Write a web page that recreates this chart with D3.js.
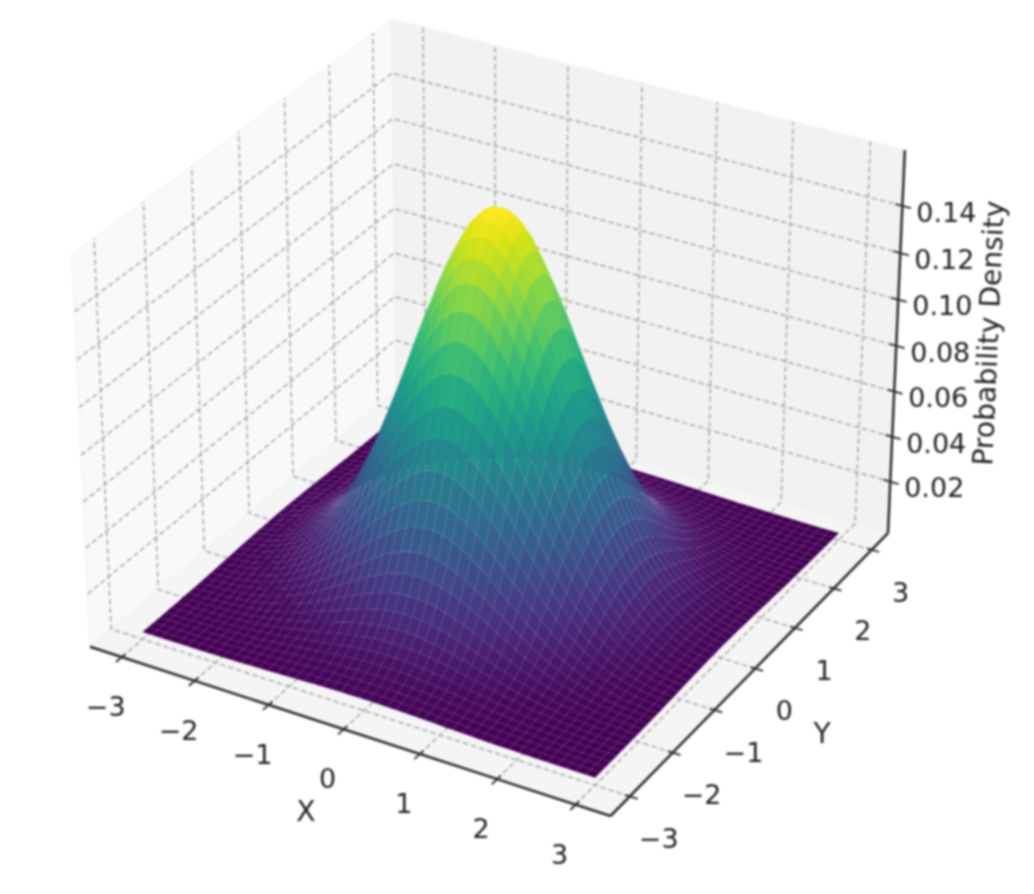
<!DOCTYPE html>
<html><head><meta charset="utf-8">
<script src="https://cdn.jsdelivr.net/npm/d3@7"></script>
<style>html,body{margin:0;padding:0;background:#fff}svg{display:block;filter:blur(0.8px)}text{font-family:"DejaVu Sans",sans-serif;fill:#222}</style>
</head><body><svg id="c" width="1034" height="894"></svg>
<script>
// ---- data ----
const xTicks = [-3,-2,-1,0,1,2,3];
const yTicks = [-3,-2,-1,0,1,2,3];
const zTicks = [0.02,0.04,0.06,0.08,0.10,0.12,0.14];
const xLabel = "X", yLabel = "Y", zLabel = "Probability Density";
// marginal density along each grid row / column (50 samples from -3 to 3)
const xProfile = [0.0044,0.0064,0.0088,0.012,0.017,0.023,0.031,0.040,0.052,0.066,0.083,0.102,0.124,0.148,0.175,0.203,0.232,0.262,0.291,0.318,0.343,0.364,0.382,0.394,0.400,
                  0.400,0.394,0.382,0.364,0.343,0.318,0.291,0.262,0.232,0.203,0.175,0.148,0.124,0.102,0.083,0.066,0.052,0.040,0.031,0.023,0.017,0.012,0.0088,0.0064,0.0044];
const yProfile = [0.0044,0.0064,0.0088,0.012,0.017,0.023,0.031,0.040,0.052,0.066,0.083,0.102,0.124,0.148,0.175,0.203,0.232,0.262,0.291,0.318,0.343,0.364,0.382,0.394,0.400,
                  0.400,0.394,0.382,0.364,0.343,0.318,0.291,0.262,0.232,0.203,0.175,0.148,0.124,0.102,0.083,0.066,0.052,0.040,0.031,0.023,0.017,0.012,0.0088,0.0064,0.0044];

// ---- scene ----
const xDom=[-3.44,3.44], yDom=[-3.44,3.44], zDom=[-0.0032,0.1634];
const box=[1.1429,1.1429,0.8571];
const sx=d3.scaleLinear().domain(xDom).range([0,box[0]]);
const sy=d3.scaleLinear().domain(yDom).range([0,box[1]]);
const sz=d3.scaleLinear().domain(zDom).range([0,box[2]]);
const el=30*Math.PI/180, az=-60*Math.PI/180, dist=10;
const w=[Math.cos(el)*Math.cos(az),Math.cos(el)*Math.sin(az),Math.sin(el)];
const r=[-w[1]/Math.hypot(w[0],w[1]),w[0]/Math.hypot(w[0],w[1]),0];
const up=[w[1]*r[2]-w[2]*r[1],w[2]*r[0]-w[0]*r[2],w[0]*r[1]-w[1]*r[0]];
const dot=(a,b)=>a[0]*b[0]+a[1]*b[1]+a[2]*b[2];
function cam(x,y,z){
  const p=[sx(x)-box[0]/2,sy(y)-box[1]/2,sz(z)-box[2]/2];
  const d=dist-dot(p,w);
  return {u:dot(p,r)/d,v:dot(p,up)/d,d};
}
const [x0,x1]=xDom,[y0,y1]=yDom,[z0,z1]=zDom;
const px=d3.scaleLinear().domain([cam(x0,y0,z0).u,cam(x1,y1,z0).u]).range([90,888]);
const py=d3.scaleLinear().domain([cam(x1,y0,z0).v,cam(x0,y1,z1).v]).range([816,19.3]);
const P=(x,y,z)=>{const c=cam(x,y,z);return [px(c.u),py(c.v)];};
const line=d3.line();
const svg=d3.select("#c");

// panes
const panes=[
 {c:"#f9f9f9",pts:[[x0,y0,z0],[x0,y1,z0],[x0,y1,z1],[x0,y0,z1]]},
 {c:"#f2f2f2",pts:[[x0,y1,z0],[x1,y1,z0],[x1,y1,z1],[x0,y1,z1]]},
 {c:"#f5f5f5",pts:[[x0,y0,z0],[x1,y0,z0],[x1,y1,z0],[x0,y1,z0]]}];
svg.append("g").selectAll("path").data(panes).join("path")
  .attr("d",d=>line(d.pts.map(q=>P(...q)))+"Z").attr("fill",d=>d.c).attr("stroke","#efefef").attr("stroke-width",1);

// grid
const gridSegs=[];
xTicks.forEach(t=>gridSegs.push([[t,y0,z0],[t,y1,z0],[t,y1,z1]]));
yTicks.forEach(t=>gridSegs.push([[x1,t,z0],[x0,t,z0],[x0,t,z1]]));
zTicks.forEach(t=>gridSegs.push([[x0,y0,t],[x0,y1,t],[x1,y1,t]]));
svg.append("g").selectAll("path").data(gridSegs).join("path")
  .attr("d",d=>line(d.map(q=>P(...q)))).attr("fill","none")
  .attr("stroke","#a8a8a8").attr("stroke-width",1.5).attr("stroke-dasharray","5.5 3");

// axis lines
const axes=[[[x0,y0,z0],[x1,y0,z0]],[[x1,y0,z0],[x1,y1,z0]],[[x1,y1,z0],[x1,y1,z1]]];
svg.append("g").selectAll("path").data(axes).join("path")
  .attr("d",d=>line(d.map(q=>P(...q)))).attr("fill","none").attr("stroke","#2c2c2c").attr("stroke-width",2.5);

// ticks
const tickSegs=[];
xTicks.forEach(t=>tickSegs.push([[t,y0+0.08,z0],[t,y0-0.12,z0]]));
yTicks.forEach(t=>tickSegs.push([[x1-0.06,t,z0],[x1+0.1,t,z0]]));
zTicks.forEach(t=>tickSegs.push([[x1-0.09,y1,t],[x1+0.11,y1,t]]));
svg.append("g").selectAll("path").data(tickSegs).join("path")
  .attr("d",d=>line(d.map(q=>P(...q)))).attr("fill","none").attr("stroke","#2c2c2c").attr("stroke-width",1.8);

// surface
const gx=d3.scaleLinear().domain([0,xProfile.length-1]).range([-3,3]);
const gy=d3.scaleLinear().domain([0,yProfile.length-1]).range([-3,3]);
const Z=(i,j)=>xProfile[i]*yProfile[j];
const faces=[];
for(let i=0;i<xProfile.length-1;i++)for(let j=0;j<yProfile.length-1;j++){
  const c=[[i,j],[i+1,j],[i+1,j+1],[i,j+1]].map(([a,b])=>[gx(a),gy(b),Z(a,b)]);
  faces.push({c,z:d3.mean(c,q=>q[2]),depth:d3.mean(c,q=>cam(...q).d)});
}
faces.sort((a,b)=>b.depth-a.depth);
const color=d3.scaleSequential(d3.interpolateViridis).domain(d3.extent(faces,f=>f.z));
svg.append("g").selectAll("path").data(faces).join("path")
  .attr("d",f=>line(f.c.map(q=>P(...q)))+"Z").attr("fill",f=>color(f.z)).attr("stroke","none");

// tick labels
const fmtInt=d=>d<0?"\u2212"+Math.abs(d):String(d);
const labels=svg.append("g").attr("font-size",27).attr("text-anchor","middle");
labels.selectAll(".xl").data(xTicks).join("text").attr("class","xl")
  .attr("x",d=>P(d,y0,z0)[0]-16).attr("y",d=>P(d,y0,z0)[1]+49.5).attr("dy","0.36em").text(fmtInt);
labels.selectAll(".yl").data(yTicks).join("text").attr("class","yl")
  .attr("x",d=>P(x1,d,z0)[0]+29).attr("y",d=>P(x1,d,z0)[1]+42).attr("dy","0.36em").text(fmtInt);
labels.selectAll(".zl").data(zTicks).join("text").attr("class","zl")
  .attr("x",d=>P(x1,y1,d)[0]+44).attr("y",d=>P(x1,y1,d)[1]+6).attr("dy","0.36em").text(d=>d.toFixed(2));

// axis labels
const al=svg.append("g").attr("font-size",28.2).attr("text-anchor","middle");
al.append("text").attr("x",306).attr("y",811).attr("dy","0.36em").text(xLabel);
al.append("text").attr("x",822).attr("y",733).attr("dy","0.36em").text(yLabel);
al.append("text").attr("transform","translate(988,333) rotate(-87.5)").attr("dy","0.36em").text(zLabel);
</script></body></html>
